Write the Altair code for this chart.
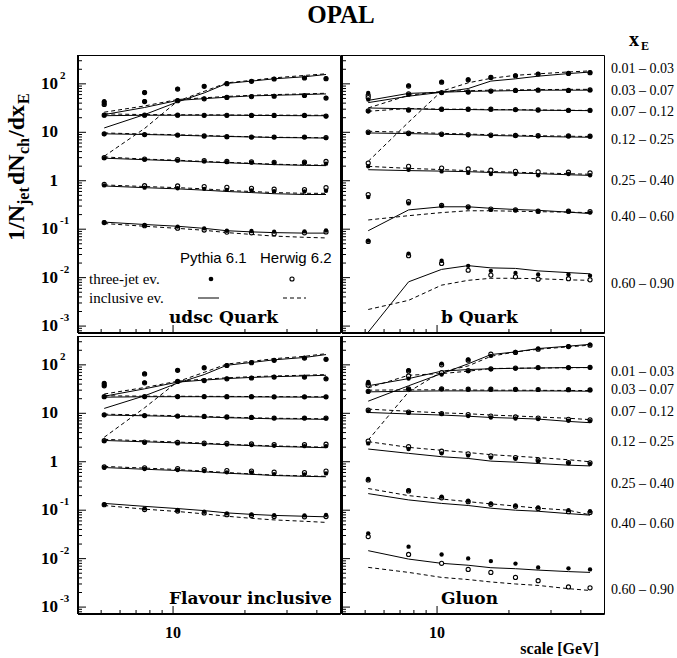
import altair as alt
import pandas as pd

# ---------------- data ----------------
SCALE_GEV = [5.15, 7.6, 10.45, 13.5, 16.8, 21.3, 26.5, 35.5, 43.7]
XE_BINS = ["0.01 \u2013 0.03", "0.03 \u2013 0.07", "0.07 \u2013 0.12", "0.12 \u2013 0.25",
           "0.25 \u2013 0.40", "0.40 \u2013 0.60", "0.60 \u2013 0.90"]

# udsc Quark
udsc_p3 = [[43.8, 67, 79, 90, 102, 114, 127, 133, 129],
           [38.6, 43.8, 45.5, 49.5, 53, 55, 56, 58, 51.4],
           [22.5, 22.5, 22.5, 22.3, 22.3, 22.2, 22.2, 22.2, 21.4],
           [9.2, 8.9, 8.7, 8.3, 8.0, 7.9, 7.9, 7.9, 7.6],
           [2.94, 2.72, 2.6, 2.51, 2.42, 2.37, 2.32, 2.32, 2.25],
           [0.80, 0.72, 0.70, 0.68, 0.65, 0.63, 0.61, 0.60, 0.62],
           [0.139, 0.122, 0.113, 0.104, 0.093, 0.092, 0.089, 0.090, 0.094]]
udsc_h3 = [[42, 66, 78, 89, 101, 113, 126, 132, 128],
           [37.5, 43, 45, 49, 52.5, 54.5, 55.5, 57.5, 51],
           [22.6, 22.6, 22.6, 22.4, 22.4, 22.3, 22.3, 22.3, 21.6],
           [9.3, 9.0, 8.8, 8.4, 8.1, 8.0, 8.0, 8.0, 7.8],
           [3.0, 2.8, 2.72, 2.6, 2.5, 2.45, 2.4, 2.42, 2.5],
           [0.84, 0.79, 0.78, 0.76, 0.73, 0.70, 0.67, 0.66, 0.72],
           [0.137, 0.118, 0.105, 0.096, 0.087, 0.084, 0.081, 0.084, 0.088]]
udsc_pi = [[12.3, 23.2, 42.4, 65, 102, 114, 127, 140, 156],
           [23.2, 32.5, 45.5, 49.5, 53, 56.5, 58, 60.2, 62],
           [22, 22.5, 22.5, 22.5, 22.5, 22.3, 22.2, 22, 22],
           [9.3, 9.0, 8.7, 8.4, 8.2, 8.0, 7.8, 7.7, 7.6],
           [2.92, 2.72, 2.58, 2.45, 2.35, 2.25, 2.15, 2.08, 2.05],
           [0.78, 0.72, 0.68, 0.64, 0.60, 0.57, 0.54, 0.52, 0.52],
           [0.14, 0.125, 0.115, 0.104, 0.093, 0.088, 0.085, 0.083, 0.083]]
udsc_hi = [[3.2, 12.0, 44, 70, 105, 118, 133, 149, 161],
           [26, 35, 47.5, 51.5, 55, 58, 60, 62, 64],
           [24, 23.2, 23, 23, 22.8, 22.7, 22.6, 22.5, 22.5],
           [9.7, 9.2, 8.9, 8.6, 8.3, 8.1, 7.9, 7.8, 7.7],
           [3.1, 2.8, 2.65, 2.5, 2.4, 2.3, 2.2, 2.12, 2.1],
           [0.82, 0.76, 0.72, 0.68, 0.63, 0.6, 0.57, 0.55, 0.55],
           [0.131, 0.115, 0.104, 0.095, 0.085, 0.078, 0.072, 0.068, 0.066]]

# b Quark
b_p3 = [[65, 92.5, 110, 123, 138, 149, 161, 166, 172],
        [47.5, 60, 65, 67, 70, 72, 75, 72, 74],
        [27.2, 28.5, 29.5, 29.5, 29.5, 29, 28.5, 28, 28],
        [9.7, 9.2, 8.9, 8.7, 8.5, 8.4, 8.3, 8.3, 8.2],
        [1.98, 1.69, 1.56, 1.45, 1.38, 1.38, 1.30, 1.38, 1.3],
        [0.46, 0.34, 0.30, 0.28, 0.25, 0.245, 0.23, 0.23, 0.22],
        [0.058, 0.0314, 0.0223, 0.0175, 0.0138, 0.0125, 0.0116, 0.0116, 0.011]]
b_h3 = [[58, 90, 108, 121, 136, 147, 159, 164, 170],
        [52, 62, 66, 68, 71, 73, 74, 73, 75],
        [27.8, 29, 30, 30, 30, 29.5, 29, 28.5, 28.5],
        [10.1, 9.6, 9.2, 9.0, 8.8, 8.6, 8.5, 8.4, 8.3],
        [2.32, 1.98, 1.83, 1.75, 1.65, 1.57, 1.52, 1.50, 1.45],
        [0.52, 0.37, 0.31, 0.29, 0.26, 0.25, 0.235, 0.235, 0.23],
        [0.056, 0.0283, 0.0196, 0.0142, 0.0113, 0.0104, 0.0093, 0.0095, 0.009]]
b_pi = [[41, 55.6, 67, 80, 114, 127, 144, 163, 175],
        [45.5, 63.5, 67, 70, 71, 72.5, 74, 74, 74],
        [31.8, 30.5, 29.5, 29.5, 29, 29, 28.5, 28.2, 28],
        [9.7, 9.4, 9.1, 8.9, 8.6, 8.4, 8.2, 8.0, 7.9],
        [1.69, 1.62, 1.58, 1.54, 1.48, 1.44, 1.40, 1.33, 1.29],
        [0.093, 0.25, 0.29, 0.29, 0.27, 0.255, 0.245, 0.225, 0.21],
        [0.00075, 0.0082, 0.0148, 0.0177, 0.0159, 0.0155, 0.0138, 0.0127, 0.012]]
b_hi = [[2.51, 16.2, 70.6, 105, 130, 150, 161, 176, 185],
        [31.8, 58, 70, 72, 74, 75, 76, 77, 77],
        [27.2, 31, 30, 30, 29.5, 29.3, 29, 28.5, 28.3],
        [10.5, 10.0, 9.5, 9.2, 8.9, 8.7, 8.5, 8.3, 8.2],
        [1.98, 1.80, 1.70, 1.62, 1.55, 1.50, 1.45, 1.40, 1.36],
        [0.155, 0.19, 0.22, 0.24, 0.24, 0.235, 0.23, 0.225, 0.22],
        [0.0022, 0.0034, 0.0070, 0.0088, 0.0097, 0.0097, 0.0095, 0.0090, 0.0088]]

# Flavour inclusive
fl_p3 = [[42.5, 66, 78, 88, 98, 112, 125, 139, 131],
         [38, 43, 46, 48, 52, 54, 56.5, 56.5, 52],
         [21.9, 22, 22, 22, 21.9, 21.9, 21.8, 21.8, 21.8],
         [9.2, 8.9, 8.7, 8.5, 8.3, 8.1, 7.9, 7.9, 7.8],
         [2.67, 2.47, 2.39, 2.31, 2.27, 2.21, 2.14, 2.1, 2.1],
         [0.75, 0.71, 0.675, 0.645, 0.605, 0.6, 0.557, 0.55, 0.575],
         [0.132, 0.109, 0.101, 0.093, 0.086, 0.082, 0.079, 0.078, 0.080]]
fl_h3 = [[41, 65, 77, 87, 97, 111, 124, 138, 130],
         [37, 42.5, 45.5, 47.5, 51.5, 53.5, 56, 56, 51.5],
         [22, 22.1, 22.1, 22.1, 22, 22, 21.9, 21.9, 21.9],
         [9.3, 9.0, 8.8, 8.6, 8.4, 8.2, 8.0, 8.0, 8.0],
         [2.72, 2.55, 2.5, 2.42, 2.4, 2.33, 2.27, 2.25, 2.3],
         [0.78, 0.75, 0.72, 0.69, 0.66, 0.64, 0.61, 0.6, 0.64],
         [0.13, 0.103, 0.096, 0.088, 0.081, 0.078, 0.074, 0.073, 0.074]]
fl_pi = [[12.6, 23, 42, 63, 98, 112, 127, 142, 163],
         [22.5, 32, 44, 48.5, 52, 55, 57, 59, 61],
         [21.5, 22, 22, 22, 21.9, 21.8, 21.7, 21.6, 21.5],
         [9.2, 8.9, 8.6, 8.4, 8.1, 7.9, 7.7, 7.6, 7.5],
         [2.75, 2.58, 2.45, 2.35, 2.25, 2.15, 2.07, 2.0, 1.95],
         [0.76, 0.70, 0.66, 0.62, 0.58, 0.55, 0.52, 0.5, 0.49],
         [0.138, 0.12, 0.108, 0.098, 0.088, 0.082, 0.078, 0.075, 0.073]]
fl_hi = [[3.2, 13, 45, 70, 104, 118, 134, 150, 170],
         [25, 34, 46, 50.5, 54, 57, 59, 61, 63],
         [23, 22.6, 22.5, 22.4, 22.3, 22.2, 22.1, 22, 22],
         [9.6, 9.2, 8.9, 8.6, 8.3, 8.1, 7.9, 7.8, 7.7],
         [2.9, 2.7, 2.55, 2.42, 2.3, 2.2, 2.12, 2.05, 2.0],
         [0.8, 0.74, 0.69, 0.64, 0.6, 0.56, 0.53, 0.51, 0.5],
         [0.125, 0.105, 0.094, 0.084, 0.075, 0.068, 0.063, 0.059, 0.056]]

# Gluon
g_p3 = [[44.6, 78, 106, 129, 153, 185, 217, 243, 262],
        [41, 52, 63, 74, 81, 84, 87, 87, 88],
        [27.7, 31.5, 31.5, 31, 31, 31, 30.5, 30.5, 30],
        [11.1, 10.2, 9.6, 8.8, 8.2, 7.8, 7.6, 7.0, 6.9],
        [2.39, 1.83, 1.49, 1.34, 1.22, 1.15, 1.03, 0.93, 0.9],
        [0.44, 0.26, 0.19, 0.157, 0.138, 0.125, 0.114, 0.10, 0.095],
        [0.0333, 0.0177, 0.0122, 0.0101, 0.0089, 0.0079, 0.0066, 0.0063, 0.006]]
g_h3 = [[41, 75, 100, 125, 166, 180, 210, 238, 255],
        [38, 59, 69, 76, 83, 86, 88, 88, 89],
        [28.5, 32, 32, 31.5, 31.5, 31.2, 31, 30.8, 30.3],
        [11.6, 10.6, 9.9, 9.4, 8.8, 8.4, 8.0, 7.5, 7.3],
        [2.67, 2.05, 1.65, 1.46, 1.33, 1.22, 1.08, 0.96, 0.95],
        [0.42, 0.25, 0.18, 0.15, 0.132, 0.12, 0.109, 0.093, 0.09],
        [0.0285, 0.0122, 0.0080, 0.0060, 0.0052, 0.0041, 0.0035, 0.0026, 0.0025]]
g_pi = [[17.8, 37, 66, 105, 163, 185, 217, 243, 265],
        [37, 52, 74, 80, 83, 85, 86, 88, 88],
        [27.7, 28.5, 29, 29, 29, 29, 29, 28.8, 28.5],
        [10.4, 9.7, 9.2, 8.7, 8.2, 7.9, 7.6, 6.8, 6.4],
        [1.83, 1.49, 1.27, 1.17, 1.03, 0.98, 0.92, 0.85, 0.82],
        [0.22, 0.163, 0.138, 0.125, 0.11, 0.10, 0.095, 0.085, 0.079],
        [0.0146, 0.0098, 0.0080, 0.0073, 0.0065, 0.0062, 0.0058, 0.0054, 0.0052]]
g_hi = [[2.8, 27.7, 72, 95, 150, 185, 210, 235, 255],
        [33.5, 61, 66, 74, 84, 85, 86, 87, 88],
        [30, 30.5, 30.5, 30.3, 30, 30, 29.8, 29.6, 29.5],
        [12.2, 11.0, 10.2, 9.8, 9.2, 8.8, 8.4, 7.9, 7.4],
        [2.6, 1.98, 1.72, 1.55, 1.40, 1.30, 1.22, 1.10, 1.0],
        [0.28, 0.20, 0.17, 0.15, 0.135, 0.122, 0.11, 0.1, 0.08],
        [0.0066, 0.0052, 0.0041, 0.0037, 0.0033, 0.0030, 0.0028, 0.0024, 0.0022]]

# axis ticks / labels
Y_TICK_MAJOR = [1e-3, 1e-2, 1e-1, 1, 10, 100]
Y_TICK_MINOR = [k * 10.0 ** e for e in range(-4, 3) for k in range(2, 10)
                if 7.2e-4 <= k * 10.0 ** e <= 394]
X_TICK_MINOR = [5, 6, 7, 8, 9, 20, 30, 40]
X_TICK_MAJOR = [10]
Y_LABEL_VALUES = [100, 10, 1, 0.1, 0.01, 0.001]
Y_LABEL_BASE = ["10", "10", "1", "10", "10", "10"]
Y_LABEL_EXP = ["2", "", "", "-1", "-2", "-3"]

PANELS = {
    "udsc": {"p3": udsc_p3, "h3": udsc_h3, "pi": udsc_pi, "hi": udsc_hi},
    "b": {"p3": b_p3, "h3": b_h3, "pi": b_pi, "hi": b_hi},
    "fl": {"p3": fl_p3, "h3": fl_h3, "pi": fl_pi, "hi": fl_hi},
    "g": {"p3": g_p3, "h3": g_h3, "pi": g_pi, "hi": g_hi},
}
recs = []
for pname, kinds in PANELS.items():
    for kind, table in kinds.items():
        for r, vals in enumerate(table):
            for xv, v in zip(SCALE_GEV, vals):
                recs.append({"panel": pname, "kind": kind, "row": r, "x": xv, "v": v})
df = pd.DataFrame(recs)

# ---------------- layout ----------------
W, H = 262, 278
XS = alt.Scale(type="log", domain=[4, 50], nice=False)
YS = alt.Scale(type="log", domain=[7.2e-4, 394], nice=False)
SERIF = "Liberation Serif"
CM_BOLD = "DejaVu Serif"
DUMMY = pd.DataFrame({"a": [0]})


def ex(field="x"):
    return alt.X(f"{field}:Q", scale=XS, axis=None)


def ey(field="v"):
    return alt.Y(f"{field}:Q", scale=YS, axis=None)


def txt(text, x, y, size=14, font=SERIF, weight="normal", align="left",
        baseline="middle", angle=0):
    kw = dict(text=text, font=font, fontSize=size, fontWeight=weight,
              align=align, baseline=baseline, color="black")
    if angle:
        kw["angle"] = angle
    return alt.Chart(DUMMY).mark_text(**kw).encode(x=alt.value(x), y=alt.value(y))


def panel(name, label, left, bottom, extra):
    base = alt.Chart(df).transform_filter(alt.datum.panel == name)
    layers = [
        base.transform_filter(alt.datum.kind == "pi").mark_line(
            color="black", strokeWidth=1, clip=True).encode(x=ex(), y=ey(), detail="row:N"),
        base.transform_filter(alt.datum.kind == "hi").mark_line(
            color="black", strokeWidth=1, strokeDash=[4, 3], clip=True).encode(
            x=ex(), y=ey(), detail="row:N"),
        base.transform_filter(alt.datum.kind == "h3").mark_point(
            shape="circle", filled=True, fill="white", stroke="black", strokeWidth=1.1,
            size=17, opacity=1, clip=True).encode(x=ex(), y=ey()),
        base.transform_filter(alt.datum.kind == "p3").mark_point(
            shape="circle", filled=True, color="black", size=19, opacity=1,
            clip=True).encode(x=ex(), y=ey()),
        # inward ticks
        alt.Chart(pd.DataFrame({"v": Y_TICK_MINOR})).mark_rule(
            color="black", strokeWidth=1).encode(y=ey(), x=alt.value(0), x2=alt.value(4)),
        alt.Chart(pd.DataFrame({"v": Y_TICK_MAJOR})).mark_rule(
            color="black", strokeWidth=1).encode(y=ey(), x=alt.value(0), x2=alt.value(8)),
        alt.Chart(pd.DataFrame({"x": X_TICK_MINOR})).mark_rule(
            color="black", strokeWidth=1).encode(x=ex(), y=alt.value(H), y2=alt.value(H - 4)),
        alt.Chart(pd.DataFrame({"x": X_TICK_MAJOR})).mark_rule(
            color="black", strokeWidth=1).encode(x=ex(), y=alt.value(H), y2=alt.value(H - 8)),
        # thick left / bottom axis lines
        alt.Chart(DUMMY).mark_rule(color="black", strokeWidth=2).encode(
            x=alt.value(0), y=alt.value(0), y2=alt.value(H)),
        alt.Chart(DUMMY).mark_rule(color="black", strokeWidth=2).encode(
            x=alt.value(0), x2=alt.value(W), y=alt.value(H)),
        txt(label, 91 if left else 99, 268, size=17, font=CM_BOLD, weight="bold",
            baseline="alphabetic"),
    ]
    if left:
        ylab = pd.DataFrame({"v": Y_LABEL_VALUES, "b": Y_LABEL_BASE, "e": Y_LABEL_EXP})
        layers.append(alt.Chart(ylab).mark_text(
            font=SERIF, fontWeight="bold", fontSize=17, align="right", baseline="middle",
            color="black").encode(y=ey(), x=alt.value(-20), text="b:N"))
        layers.append(alt.Chart(ylab).mark_text(
            font=SERIF, fontWeight="bold", fontSize=11, align="left", baseline="middle",
            dy=-8, color="black").encode(y=ey(), x=alt.value(-18), text="e:N"))
    if bottom:
        layers.append(alt.Chart(pd.DataFrame({"x": [10], "t": ["10"]})).mark_text(
            font=SERIF, fontWeight="bold", fontSize=16, align="center", baseline="middle",
            color="black").encode(x=ex(), y=alt.value(H + 19), text="t:N"))
    layers.extend(extra)
    return alt.layer(*layers).properties(width=W, height=H)


# extras for the top-left panel: title, y-title, legend, anchor
YT_MAIN = 24
YT_SUB = 16
tl_extra = [
    alt.Chart(DUMMY).mark_point(size=1, opacity=0).encode(x=alt.value(-77), y=alt.value(-54)),
    txt("OPAL", W + 1, -40, size=25, weight="bold", align="center"),
    txt("1/N", -61, 186, size=YT_MAIN, weight="bold", angle=270),
    txt("jet", -54, 150, size=YT_SUB, weight="bold", angle=270),
    txt("dN", -61, 130, size=YT_MAIN, weight="bold", angle=270),
    txt("ch", -54, 99, size=YT_SUB, weight="bold", angle=270),
    txt("/dx", -61, 82, size=YT_MAIN, weight="bold", angle=270),
    txt("E", -54, 49, size=YT_SUB, weight="bold", angle=270),
    txt("Pythia 6.1", 102, 203, size=15, font="Liberation Sans"),
    txt("Herwig 6.2", 182, 203, size=15, font="Liberation Sans"),
    txt("three-jet ev.", 11, 224, size=15),
    txt("inclusive ev.", 11, 243, size=15),
    alt.Chart(DUMMY).mark_point(shape="circle", filled=True, color="black", size=22,
                                opacity=1).encode(x=alt.value(133), y=alt.value(224)),
    alt.Chart(DUMMY).mark_point(shape="circle", filled=True, fill="white", stroke="black",
                                strokeWidth=1.1, size=17, opacity=1).encode(
        x=alt.value(214), y=alt.value(224)),
    alt.Chart(DUMMY).mark_rule(color="black", strokeWidth=1).encode(
        x=alt.value(120), x2=alt.value(141), y=alt.value(243)),
    alt.Chart(DUMMY).mark_rule(color="black", strokeWidth=1, strokeDash=[4, 3]).encode(
        x=alt.value(205), x2=alt.value(228), y=alt.value(243)),
]

TOP_LABEL_OFFSETS = [14, 36, 57, 85, 126, 162, 229]
BOTTOM_LABEL_OFFSETS = [36, 54, 76, 106, 148, 188, 254]

tr_extra = [txt("x", 287, -15, size=20, weight="bold"),
            txt("E", 299, -9, size=12, weight="bold")]
tr_extra += [txt(t, W + 7, o, size=14) for t, o in zip(XE_BINS, TOP_LABEL_OFFSETS)]
br_extra = [txt(t, W + 7, o, size=14) for t, o in zip(XE_BINS, BOTTOM_LABEL_OFFSETS)]
br_extra.append(txt("scale [GeV]", 257, H + 35, size=16, weight="bold", align="right"))

tl = panel("udsc", "udsc Quark", True, False, tl_extra)
tr = panel("b", "b Quark", False, False, tr_extra)
bl = panel("fl", "Flavour inclusive", True, True, [])
br = panel("g", "Gluon", False, True, br_extra)

chart = alt.concat(tl, tr, bl, br, columns=2, spacing={"row": 3, "column": 2},
                   bounds="flush").properties(
    padding=0, background="white"
).configure_view(stroke="black", strokeWidth=1)

chart.save("out.html", embed_options={"renderer": "svg", "actions": False})
